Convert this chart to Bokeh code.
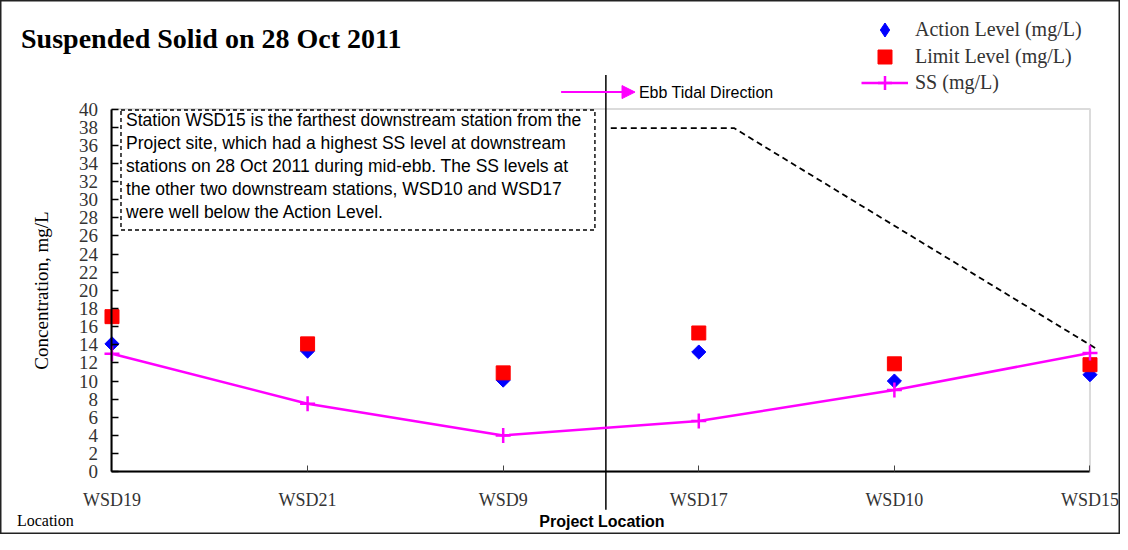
import math
from bokeh.plotting import figure
from bokeh.models import (LinearAxis, FixedTicker, Range1d, Label, Arrow, NormalHead,
                          Legend, LegendItem, BoxAnnotation)
from bokeh.embed import file_html
from bokeh.resources import INLINE

# ---- data ----
stations = ["WSD19", "WSD21", "WSD9", "WSD17", "WSD10", "WSD15"]
action_level = [14.1, 13.3, 10.1, 13.2, 10.0, 10.7]
limit_level = [17.1, 14.1, 10.9, 15.3, 11.9, 11.8]
ss_level = [13.0, 7.5, 4.0, 5.6, 9.0, 13.1]
y_ticks = list(range(0, 41, 2))
note_lines = [
    "Station WSD15 is the farthest downstream station from the",
    "Project site, which had a highest SS level at downstream",
    "stations on 28 Oct 2011 during mid-ebb. The SS levels at",
    "the other two downstream stations, WSD10 and WSD17",
    "were well below the Action Level.",
]
legend_labels = ["Action Level (mg/L)", "Limit Level (mg/L)", "SS (mg/L)"]
project_location = 2.525
callout_x = [2.55, 3.18, 5.03]
callout_y = [37.9, 37.9, 13.6]

xs = list(range(len(stations)))

W, H = 1120, 534
p = figure(width=W, height=H,
           x_range=Range1d(-0.570, 5.156), y_range=Range1d(-6.926, 51.97),
           x_axis_location=None, y_axis_location=None,
           toolbar_location=None, output_backend="svg", min_border=0,
           outline_line_color="#222222", outline_line_width=2)
p.grid.visible = False

# frame (top/right in gray)
frame = BoxAnnotation(left=0, right=5, bottom=0, top=40, fill_alpha=0,
                      line_color="#888888", line_width=2, level="underlay")
p.add_layout(frame)

# axes
yaxis = LinearAxis(fixed_location=0, bounds=(0, 40), ticker=FixedTicker(ticks=y_ticks),
                   axis_label="Concentration, mg/L")
yaxis.axis_line_color = "black"
yaxis.axis_line_width = 2
yaxis.major_tick_in = 7
yaxis.major_tick_out = 0
yaxis.major_tick_line_color = "black"
yaxis.major_tick_line_width = 1.5
yaxis.minor_tick_line_color = None
yaxis.major_label_standoff = 14
yaxis.major_label_text_font = "Liberation Serif"
yaxis.major_label_text_font_size = "19px"
yaxis.major_label_text_color = "#333333"
yaxis.axis_label_text_font = "Liberation Serif"
yaxis.axis_label_text_font_size = "19px"
yaxis.axis_label_text_font_style = "normal"
yaxis.axis_label_text_color = "black"
yaxis.axis_label_standoff = 24
p.add_layout(yaxis, "left")

xaxis = LinearAxis(fixed_location=0, bounds=(0, 5), ticker=FixedTicker(ticks=xs),
                   major_label_overrides={i: s for i, s in enumerate(stations)})
xaxis.axis_line_color = "black"
xaxis.axis_line_width = 2
xaxis.major_tick_in = 6
xaxis.major_tick_out = 0
xaxis.major_tick_line_color = "#444444"
xaxis.minor_tick_line_color = None
xaxis.major_label_standoff = 18
xaxis.major_label_text_font = "Liberation Serif"
xaxis.major_label_text_font_size = "18px"
xaxis.major_label_text_color = "#333333"
p.add_layout(xaxis, "below")

# note box and callout
p.quad(left=0.046, right=2.469, top=39.9, bottom=26.65, fill_color=None,
       line_color="black", line_width=1.4, line_dash="4 3")
p.add_layout(Label(x=0.072, y=39.85, text="\n".join(note_lines), text_baseline="top",
                   text_font="Liberation Sans", text_font_size="17.5px",
                   text_line_height=1.15, text_color="black"))
p.line(callout_x, callout_y, line_color="black", line_width=1.8, line_dash="6 4")

# project location line
p.segment(x0=[project_location], y0=[-4.2], x1=[project_location], y1=[43.75],
          line_color="black", line_width=1.5)

# ebb direction arrow
p.add_layout(Arrow(x_start=2.296, y_start=41.87, x_end=2.674, y_end=41.87,
                   line_color="#FF00FF", line_width=2,
                   end=NormalHead(size=13, fill_color="#FF00FF", line_color="#FF00FF")))
p.add_layout(Label(x=2.694, y=41.87, text="Ebb Tidal Direction", text_baseline="middle",
                   text_font="Liberation Sans", text_font_size="16px", text_color="black"))

# data
r_action = p.scatter(xs, action_level, marker="square", size=10, angle=math.pi / 4,
                     fill_color="#0000FF", line_color="#0000FF")
r_limit = p.scatter(xs, limit_level, marker="square", size=14,
                    fill_color="#FF0000", line_color="#FF0000")
r_ss_line = p.line(xs, ss_level, line_color="#FF00FF", line_width=2.5)
r_ss_pts = p.scatter(xs, ss_level, marker="cross", size=15, line_color="#FF00FF", line_width=2.5)
# legend swatch for the diamond (legend ignores marker angle); hidden in the plot
r_action_key = p.scatter(xs, action_level, marker="diamond", size=14,
                         fill_color="#0000FF", line_color="#0000FF", visible=False)

# texts
p.add_layout(Label(x=-0.465, y=47.83, text="Suspended Solid on 28 Oct 2011",
                   text_baseline="middle", text_font="Liberation Serif",
                   text_font_size="28px", text_font_style="bold", text_color="black"))
p.add_layout(Label(x=-0.486, y=-5.33, text="Location", text_baseline="middle",
                   text_font="Liberation Serif", text_font_size="16px", text_color="black"))
p.add_layout(Label(x=project_location - 0.02, y=-5.5, text="Project Location",
                   text_baseline="middle", text_align="center",
                   text_font="Liberation Sans", text_font_size="16px",
                   text_font_style="bold", text_color="black"))

# legend: one single-row legend per entry so the row pitch can be tighter than the swatch
legend_renderers = [[r_action_key], [r_limit], [r_ss_line, r_ss_pts]]
legend_vy = [487, 460, 434]
for lab, rends, vy in zip(legend_labels, legend_renderers, legend_vy):
    lg = Legend(items=[LegendItem(label=lab, renderers=rends)],
                location=(861, vy), glyph_width=47, glyph_height=35, label_height=20,
                label_standoff=7, spacing=0, padding=0, margin=0,
                border_line_color=None, background_fill_alpha=0,
                inactive_fill_alpha=0,
                label_text_font="Liberation Serif", label_text_font_size="20px",
                label_text_color="#333333")
    p.add_layout(lg)

open("out.html", "w").write(file_html(p, INLINE))
